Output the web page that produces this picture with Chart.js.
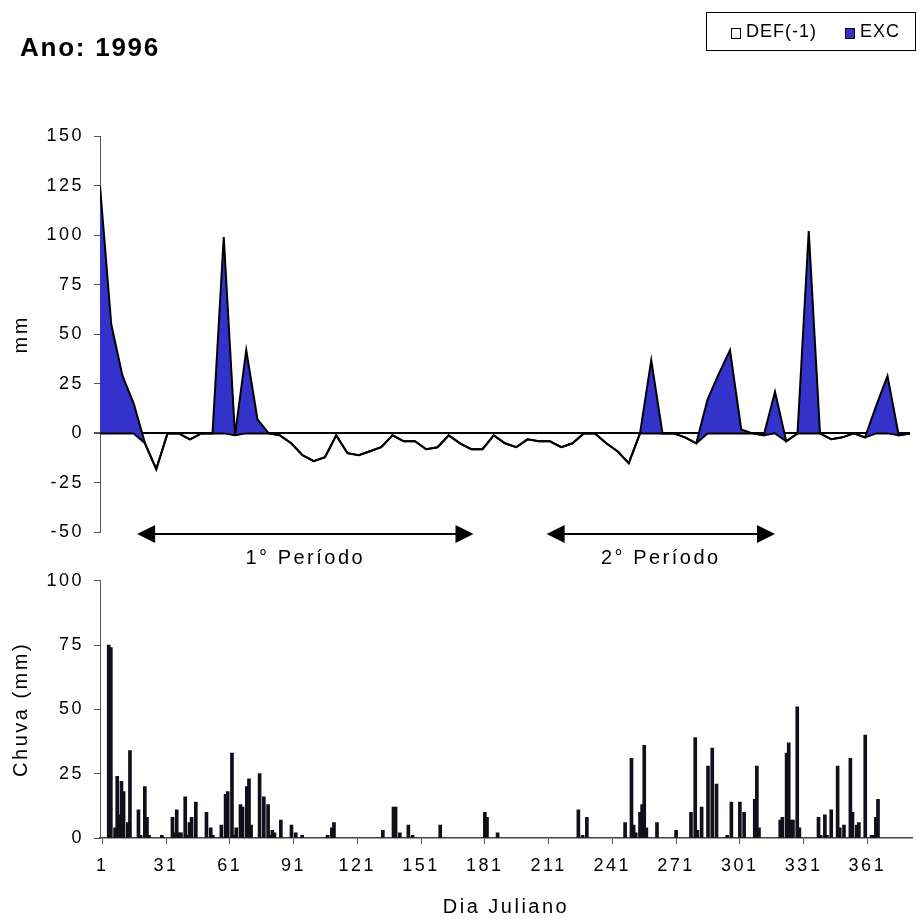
<!DOCTYPE html>
<html>
<head>
<meta charset="utf-8">
<script src="https://cdn.jsdelivr.net/npm/chart.js@4.4.1/dist/chart.umd.min.js"></script>
<style>
    html, body { margin: 0; padding: 0; background: #fff; }
    #wrap { position: relative; width: 917px; height: 919px; overflow: hidden; }
    #balance-chart { position: absolute; left: 0; top: 0; }
    #rain-chart { position: absolute; left: 0; top: 560px; }
</style>
</head>
<body>
<div id="wrap">
    <canvas id="balance-chart" width="917" height="575"></canvas>
    <canvas id="rain-chart" width="917" height="359"></canvas>
</div>
<script>
// ---- data ----
const chartTitle = 'Ano: 1996';

// water balance per pentad (index 0..72)
const defValues = [
    0, 0, 0, 0, -5, -18, 0, 0, -3, 0,
    0, 0, -1, 0, 0, 0, -1, -5, -11, -14,
    -12, -1, -10, -11, -9, -7, -1, -4, -4, -8,
    -7, -1, -5, -8, -8, -1, -5, -7, -3, -4,
    -4, -7, -5, 0, 0, -5, -9, -15, 0, 0,
    0, 0, -2, -5, 0, 0, 0, 0, 0, -1,
    0, -4, 0, 0, 0, -3, -2, 0, -2, 0,
    0, -1, 0
];
const excValues = [
    125, 55, 29, 15, 0, 0, 0, 0, 0, 0,
    0, 99, 0, 42, 7, 0, 0, 0, 0, 0,
    0, 0, 0, 0, 0, 0, 0, 0, 0, 0,
    0, 0, 0, 0, 0, 0, 0, 0, 0, 0,
    0, 0, 0, 0, 0, 0, 0, 0, 0, 37,
    0, 0, 0, 0, 17, 30, 42, 2, 0, 0,
    21, 0, 0, 102, 0, 0, 0, 0, 0, 14,
    29, 0, 0
];

// periods, in pentad index units
const periodLabels = ['1° Período', '2° Período'];
const periodStart = [3.3, 39.7];
const periodEnd = [33.2, 60.0];

// daily rainfall
const rainDays = [
    4, 5, 7, 8, 9, 10, 11, 13, 14, 18, 19, 21, 22, 23, 29, 34, 35, 36, 37, 38,
    40, 41, 42, 43, 45, 50, 52, 53, 57, 59, 60, 62, 63, 64, 66, 67, 69, 70, 71, 75,
    77, 79, 80, 81, 82, 85, 90, 92, 95, 107, 109, 110, 133, 138, 139, 141, 145, 147, 160, 181,
    182, 187, 225, 227, 229, 247, 250, 251, 252, 254, 255, 256, 257, 262, 271, 278, 280, 281, 283, 286,
    288, 290, 295, 297, 301, 303, 308, 309, 310, 320, 321, 323, 324, 325, 326, 328, 329, 338, 339, 341,
    342, 344, 347, 348, 350, 353, 354, 356, 357, 360, 363, 364, 365, 366
];
const rainValues = [
    75, 74, 4, 24, 9, 22, 18, 6, 34, 11, 1, 20, 8, 1, 1, 8, 2, 11, 2, 2,
    16, 1, 6, 8, 14, 10, 4, 1, 5, 17, 18, 33, 1, 4, 13, 12, 20, 23, 5, 25,
    16, 13, 1, 3, 2, 7, 5, 2, 1, 1, 4, 6, 3, 12, 12, 2, 5, 1, 5, 10,
    8, 2, 11, 1, 8, 6, 31, 5, 2, 10, 13, 36, 4, 6, 3, 10, 39, 3, 12, 28,
    35, 21, 1, 14, 14, 10, 15, 28, 4, 7, 8, 33, 37, 7, 7, 51, 4, 8, 1, 9,
    1, 11, 28, 4, 5, 31, 10, 5, 6, 40, 1, 1, 8, 15
];
const dayTicks = [1, 31, 61, 91, 121, 151, 181, 211, 241, 271, 301, 331, 361];

// ---- style ----
const fontFamily = "'Liberation Sans', Arial, sans-serif";
const tickFont = { family: fontFamily, size: 18 };
const titleFont = { family: fontFamily, size: 20 };
const axisColor = '#555';
const excColor = '#3333cc';

// Excel-like wide text
const spacingPlugin = {
    id: 'spacing',
    beforeLayout(chart) { chart.ctx.letterSpacing = '2.5px'; },
    beforeDraw(chart) { chart.ctx.letterSpacing = '2.5px'; }
};

// title and boxed legend on top of the balance chart
const headerPlugin = {
    id: 'header',
    afterDraw(chart) {
        const ctx = chart.ctx;
        ctx.save();
        ctx.fillStyle = '#000';
        ctx.textBaseline = 'alphabetic';
        ctx.letterSpacing = '1.75px';
        ctx.font = `bold 26px ${fontFamily}`;
        ctx.fillText(chartTitle, 20, 56);

        // legend box
        ctx.strokeStyle = '#000';
        ctx.lineWidth = 1;
        ctx.strokeRect(706.5, 12.5, 209, 38);

        ctx.font = `18px ${fontFamily}`;
        ctx.letterSpacing = '1px';
        let x = 731;
        chart.data.datasets.forEach(ds => {
            ctx.fillStyle = ds.backgroundColor;
            ctx.fillRect(x, 28, 9, 10);
            ctx.strokeRect(x + 0.5, 28.5, 9, 10);
            ctx.fillStyle = '#000';
            ctx.fillText(ds.label, x + 15, 37);
            x += 15 + ctx.measureText(ds.label).width + 28;
        });
        ctx.restore();
    }
};

// period arrows under the balance chart
const periodPlugin = {
    id: 'periods',
    afterDraw(chart) {
        const ctx = chart.ctx,
            xScale = chart.scales.x,
            y = 534,
            head = 18,
            half = 9;
        ctx.save();
        ctx.fillStyle = '#000';
        ctx.strokeStyle = '#000';
        ctx.lineWidth = 2;
        periodLabels.forEach((label, i) => {
            const x1 = xScale.getPixelForValue(periodStart[i]),
                x2 = xScale.getPixelForValue(periodEnd[i]);
            ctx.beginPath();
            ctx.moveTo(x1 + head - 2, y);
            ctx.lineTo(x2 - head + 2, y);
            ctx.stroke();
            ctx.beginPath();
            ctx.moveTo(x1, y);
            ctx.lineTo(x1 + head, y - half);
            ctx.lineTo(x1 + head, y + half);
            ctx.closePath();
            ctx.fill();
            ctx.beginPath();
            ctx.moveTo(x2, y);
            ctx.lineTo(x2 - head, y - half);
            ctx.lineTo(x2 - head, y + half);
            ctx.closePath();
            ctx.fill();

            ctx.font = `20px ${fontFamily}`;
            ctx.letterSpacing = '2.5px';
            ctx.textAlign = 'center';
            ctx.textBaseline = 'middle';
            ctx.fillText(label, (x1 + x2) / 2, 558);
        });
        ctx.restore();
    }
};

/**
 * Water balance (stacked areas, Excel style)
 */
function initBalanceChart() {
    return new Chart(document.getElementById('balance-chart'), {
        type: 'line',
        data: {
            datasets: [
                {
                    label: 'DEF(-1)',
                    data: defValues.map((v, i) => ({ x: i, y: v })),
                    borderColor: '#000',
                    backgroundColor: '#fff',
                    borderWidth: 2,
                    pointRadius: 0,
                    tension: 0,
                    fill: false
                },
                {
                    label: 'EXC',
                    data: excValues.map((v, i) => ({ x: i, y: v })),
                    borderColor: '#000',
                    backgroundColor: excColor,
                    borderWidth: 2,
                    pointRadius: 0,
                    tension: 0,
                    fill: '-1'
                }
            ]
        },
        options: {
            responsive: false,
            animation: false,
            devicePixelRatio: 1,
            events: [],
            layout: { padding: { left: 0, right: 7, top: 136, bottom: 42.5 } },
            plugins: {
                legend: { display: false },
                tooltip: { enabled: false }
            },
            scales: {
                x: { type: 'linear', display: false, min: 0, max: 72 },
                y: {
                    stacked: 'single',
                    min: -50,
                    max: 150,
                    z: 1, // zero line on top of the areas
                    afterFit(scale) { scale.width = 100; },
                    ticks: { stepSize: 25, font: tickFont, color: '#000', padding: 10 },
                    grid: {
                        color: c => (c.tick && c.tick.value === 0) ? '#000' : 'rgba(0,0,0,0)',
                        lineWidth: c => (c.tick && c.tick.value === 0) ? 2 : 1,
                        tickColor: axisColor,
                        tickLength: 6
                    },
                    border: { color: axisColor, width: 1 },
                    title: { display: true, text: 'mm', font: titleFont, color: '#000', padding: { top: 9, bottom: 0 } }
                }
            }
        },
        plugins: [spacingPlugin, headerPlugin, periodPlugin]
    });
}

/**
 * Daily rainfall bars
 */
function initRainChart() {
    return new Chart(document.getElementById('rain-chart'), {
        type: 'bar',
        data: {
            datasets: [{
                label: 'Chuva',
                data: rainDays.map((d, i) => ({ x: d, y: rainValues[i] })),
                backgroundColor: '#10101a',
                barThickness: 3
            }]
        },
        options: {
            responsive: false,
            animation: false,
            devicePixelRatio: 1,
            events: [],
            layout: { padding: { left: 0, right: 5, top: 16, bottom: 0 } },
            plugins: {
                legend: { display: false },
                tooltip: { enabled: false }
            },
            scales: {
                x: {
                    type: 'linear',
                    min: -0.1,
                    max: 382,
                    offset: false,
                    afterBuildTicks(scale) { scale.ticks = dayTicks.map(v => ({ value: v })); },
                    afterFit(scale) { scale.height = 81; },
                    ticks: { font: tickFont, color: '#000', padding: 11, maxRotation: 0, autoSkip: false },
                    grid: { offset: false, drawOnChartArea: false, tickColor: axisColor, tickLength: 6 },
                    border: { color: '#444', width: 1.5 },
                    title: { display: true, text: 'Dia Juliano', font: titleFont, color: '#000', padding: { top: 0, bottom: 0 } }
                },
                y: {
                    min: 0,
                    max: 100,
                    afterFit(scale) { scale.width = 100; },
                    ticks: { stepSize: 25, font: tickFont, color: '#000', padding: 10 },
                    grid: { drawOnChartArea: false, tickColor: axisColor, tickLength: 6 },
                    border: { color: axisColor, width: 1 },
                    title: { display: true, text: 'Chuva (mm)', font: titleFont, color: '#000', padding: { top: 9, bottom: 0 } }
                }
            }
        },
        plugins: [spacingPlugin]
    });
}

initBalanceChart();
initRainChart();
</script>
</body>
</html>
